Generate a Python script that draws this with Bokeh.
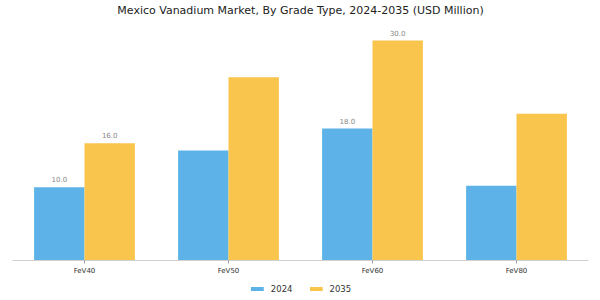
from bokeh.plotting import figure
from bokeh.layouts import column
from bokeh.models import ColumnDataSource, FactorRange, Range1d, Legend, LegendItem
from bokeh.transform import dodge
from bokeh.core.properties import value
from bokeh.embed import file_html
from bokeh.resources import INLINE

categories = ["FeV40", "FeV50", "FeV60", "FeV80"]
series_names = ["2024", "2035"]
values_2024 = [10.0, 15.0, 18.0, 10.2]
values_2035 = [16.0, 25.0, 30.0, 20.0]
show_label_2024 = [True, False, True, False]
show_label_2035 = [True, False, True, False]

BLUE = "#5db3e7"
YELLOW = "#f9c54c"
FONT = "DejaVu Sans"

src = ColumnDataSource(dict(cat=categories, v24=values_2024, v35=values_2035))

p = figure(width=600, height=277, x_range=FactorRange(*categories, range_padding=0),
           y_range=Range1d(0, 33.0), output_backend="svg", toolbar_location=None,
           title="Mexico Vanadium Market, By Grade Type, 2024-2035 (USD Million)",
           min_border_left=12, min_border_right=12, min_border_top=0,
           min_border_bottom=0)
p.title.align = "center"
p.title.text_font = FONT
p.title.text_font_size = "11px"
p.title.text_font_style = "normal"
p.title.text_color = "#222222"
p.title.standoff = 3

p.vbar(x=dodge("cat", -0.175, range=p.x_range), top="v24", width=0.35, source=src,
       fill_color=BLUE, line_color=None)
p.vbar(x=dodge("cat", 0.175, range=p.x_range), top="v35", width=0.35, source=src,
       fill_color=YELLOW, line_color=None)

lab24 = ColumnDataSource(dict(
    cat=[c for c, s in zip(categories, show_label_2024) if s],
    y=[v for v, s in zip(values_2024, show_label_2024) if s],
    t=["%.1f" % v for v, s in zip(values_2024, show_label_2024) if s]))
lab35 = ColumnDataSource(dict(
    cat=[c for c, s in zip(categories, show_label_2035) if s],
    y=[v for v, s in zip(values_2035, show_label_2035) if s],
    t=["%.1f" % v for v, s in zip(values_2035, show_label_2035) if s]))
for s, off in ((lab24, -0.175), (lab35, 0.175)):
    p.text(x=dodge("cat", off, range=p.x_range), y="y", text="t", source=s,
           text_align="center", text_baseline="bottom", y_offset=-5,
           text_font=value(FONT), text_font_size="7px", text_color="#888888")

p.yaxis.visible = False
p.xgrid.visible = False
p.ygrid.visible = False
p.outline_line_color = None
p.xaxis.axis_line_color = "#d0d0d0"
p.xaxis.major_tick_line_color = "#999999"
p.xaxis.major_tick_out = 3
p.xaxis.major_tick_in = 0
p.xaxis.minor_tick_line_color = None
p.xaxis.major_label_text_font = FONT
p.xaxis.major_label_text_font_size = "7px"
p.xaxis.major_label_text_color = "#333333"
p.xaxis.major_label_standoff = 3

# legend strip: swatch renderers share the data but lie far outside the visible range
lg = figure(width=600, height=23, output_backend="svg", toolbar_location=None,
            x_range=FactorRange(*categories), y_range=Range1d(1000, 1001), min_border=0)
lg.axis.visible = False
lg.grid.visible = False
lg.outline_line_color = None
k1 = lg.vbar(x="cat", top="v24", width=0.35, source=src, fill_color=BLUE, line_color=None)
k2 = lg.vbar(x="cat", top="v35", width=0.35, source=src, fill_color=YELLOW, line_color=None)
legend = Legend(items=[LegendItem(label=series_names[0], renderers=[k1]),
                       LegendItem(label=series_names[1], renderers=[k2])],
                orientation="horizontal", location="center",
                label_text_font=FONT, label_text_font_size="8.5px", label_text_color="#333333",
                glyph_width=16, glyph_height=5, spacing=15, padding=0, margin=0,
                border_line_color=None, background_fill_alpha=0, label_standoff=6)
lg.add_layout(legend, "center")

layout = column(p, lg, spacing=0)
open("out.html", "w").write(file_html(layout, INLINE))
